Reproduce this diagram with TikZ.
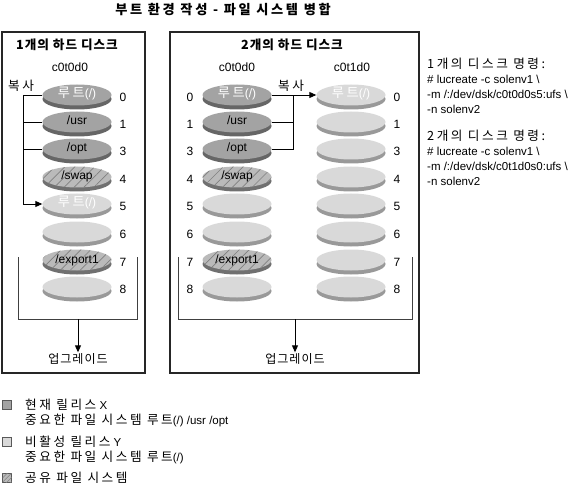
\documentclass[tikz,border=0pt]{standalone}
\usepackage{fontspec}
\setmainfont{Liberation Sans}
\newfontfamily\kr[LetterSpace=20,Scale=1.1]{Noto Sans CJK KR}
\newfontfamily\krt[LetterSpace=8,Scale=1.05]{Noto Sans CJK KR}
\usetikzlibrary{shapes.geometric,patterns.meta,arrows.meta}
\definecolor{dtop}{HTML}{A3A3A3}
\definecolor{dside}{HTML}{666666}
\definecolor{ltop}{HTML}{D9D9D9}
\definecolor{lside}{HTML}{999999}
\definecolor{htop}{HTML}{BABABA}
\definecolor{hside}{HTML}{707070}
\definecolor{hline}{HTML}{808080}
\newcommand\fsz{\fontsize{11.5}{14}\selectfont}
\newcommand\dsz{\fontsize{12}{14}\selectfont}
\tikzset{
  disklbl/.style={ellipse, minimum width=69pt, minimum height=21pt, inner sep=0pt,
    text height=7.5pt, text depth=1.5pt, font=\dsz},
  dface/.style={fill=dtop}, dsd/.style={fill=dside},
  lface/.style={fill=ltop}, lsd/.style={fill=lside},
  hface/.style={fill=htop, postaction={pattern={Lines[angle=45,distance=7pt,line width=0.7pt]}, pattern color=hline}},
  hsd/.style={fill=hside},
  num/.style={font=\dsz, inner sep=0pt},
  lbl/.style={font=\dsz, inner sep=1pt},
  ttl/.style={font=\kr\bfseries\fontsize{12}{14}\selectfont, inner sep=1pt},
  bttl/.style={font=\krt\bfseries\fontsize{12}{14}\selectfont, inner sep=1pt},
  conn/.style={line width=0.9pt, black},
  arr/.style={-{Triangle[length=7pt,width=6pt]}},
  bracket/.style={line width=0.7pt, black!75},
  frame/.style={line width=1.2pt, black!85},
  sq/.style={draw=black!65, line width=0.6pt, minimum size=9pt, inner sep=0pt},
  lt/.style={font=\fsz, anchor=west, inner sep=0pt},
}
% name, x, y, face style, side style, text style, text
\newcommand\dsk[7]{%
  \path[#5] (#2,#3+4) ellipse [x radius=34.5pt, y radius=10.5pt];
  \path[#4] (#2,#3) ellipse [x radius=34.5pt, y radius=10.5pt];
  \node[disklbl,#6] (#1) at (#2,#3) {#7};}
\begin{document}
\begin{tikzpicture}[x=1pt,y=-1pt]
\useasboundingbox (0,0) rectangle (578,489);
\node[ttl] (title) at (223,10) {부트 환경 작성 - 파일 시스템 병합};
% frames
\draw[frame] (2,32) rectangle (145,373);
\draw[frame] (170,32) rectangle (419,373);
\node[bttl] (t1) at (67,45) {1개의 하드 디스크};
\node[bttl] (t2) at (292,45) {2개의 하드 디스크};
\node[lbl] (dA) at (70,67) {c0t0d0};
\node[lbl] (dB) at (237,67) {c0t0d0};
\node[lbl] (dC) at (352,67) {c0t1d0};
% left box disks
\dsk{A0}{77}{95}{dface}{dsd}{text=white}{{\kr 루트}(/)}
\dsk{A1}{77}{122}{dface}{dsd}{}{/usr}
\dsk{A3}{77}{149}{dface}{dsd}{}{/opt}
\dsk{A4}{77}{177}{hface}{hsd}{}{/swap}
\dsk{A5}{77}{204}{lface}{lsd}{text=white}{{\kr 루트}(/)}
\dsk{A6}{77}{232}{lface}{lsd}{}{}
\dsk{A7}{77}{260}{hface}{hsd}{}{/export1}
\dsk{A8}{77}{287}{lface}{lsd}{}{}
\node[num] (nA0) at (123,97) {0};
\node[num] (nA1) at (123,124) {1};
\node[num] (nA3) at (123,151) {3};
\node[num] (nA4) at (123,179) {4};
\node[num] (nA5) at (123,206) {5};
\node[num] (nA6) at (123,234) {6};
\node[num] (nA7) at (123,262) {7};
\node[num] (nA8) at (123,289) {8};
% right box, first disk
\dsk{B0}{237}{95}{dface}{dsd}{text=white}{{\kr 루트}(/)}
\dsk{B1}{237}{122}{dface}{dsd}{}{/usr}
\dsk{B3}{237}{149}{dface}{dsd}{}{/opt}
\dsk{B4}{237}{177}{hface}{hsd}{}{/swap}
\dsk{B5}{237}{204}{lface}{lsd}{}{}
\dsk{B6}{237}{232}{lface}{lsd}{}{}
\dsk{B7}{237}{260}{hface}{hsd}{}{/export1}
\dsk{B8}{237}{287}{lface}{lsd}{}{}
\node[num] (nB0) at (190,97) {0};
\node[num] (nB1) at (190,124) {1};
\node[num] (nB3) at (190,151) {3};
\node[num] (nB4) at (190,179) {4};
\node[num] (nB5) at (190,206) {5};
\node[num] (nB6) at (190,234) {6};
\node[num] (nB7) at (190,262) {7};
\node[num] (nB8) at (190,289) {8};
% right box, second disk
\dsk{C0}{351}{95}{lface}{lsd}{text=white}{{\kr 루트}(/)}
\dsk{C1}{351}{122}{lface}{lsd}{}{}
\dsk{C3}{351}{149}{lface}{lsd}{}{}
\dsk{C4}{351}{177}{lface}{lsd}{}{}
\dsk{C5}{351}{204}{lface}{lsd}{}{}
\dsk{C6}{351}{232}{lface}{lsd}{}{}
\dsk{C7}{351}{260}{lface}{lsd}{}{}
\dsk{C8}{351}{287}{lface}{lsd}{}{}
\node[num] (nC0) at (397,97) {0};
\node[num] (nC1) at (397,124) {1};
\node[num] (nC3) at (397,151) {3};
\node[num] (nC4) at (397,179) {4};
\node[num] (nC5) at (397,206) {5};
\node[num] (nC6) at (397,234) {6};
\node[num] (nC7) at (397,262) {7};
\node[num] (nC8) at (397,289) {8};
% copy connectors, left
\node[lbl,font=\kr\fsz] (cpA) at (21,86) {복사};
\coordinate (barA) at (23,95);
\draw[conn] (A0.west) -- (barA);
\draw[conn] (A1.west) -- (A1.west -| barA);
\draw[conn] (A3.west) -- (A3.west -| barA);
\draw[conn,arr] (barA) |- (A5.west);
% copy connectors, right
\node[lbl,font=\kr\fsz] (cpB) at (291,86) {복사};
\coordinate (barB) at (293,95);
\draw[conn,arr] (B0.east) -- (C0.west);
\draw[conn] (B1.east) -| (barB);
\draw[conn] (B3.east) -| (barB);
% upgrade brackets
\draw[bracket] (18,257) -- (18,319) -- (137,319) -- (137,257);
\coordinate (uA) at (78,319);
\node[lbl,font=\krt\fsz] (upA) at (78,359) {업그레이드};
\draw[conn,arr] (uA) -- (upA.north);
\draw[bracket] (178,257) -- (178,319) -- (412,319) -- (412,257);
\coordinate (uB) at (295,319);
\node[lbl,font=\krt\fsz] (upB) at (295,359) {업그레이드};
\draw[conn,arr] (uB) -- (upB.north);
% commands
\node[font=\fontsize{11.5}{15}\selectfont, anchor=north west, align=left, inner sep=0pt] (cmd1) at (427,58)
  {{\kr 1개의 디스크 명령:}\\\# lucreate -c solenv1 \textbackslash\\-m /:/dev/dsk/c0t0d0s5:ufs \textbackslash\\-n solenv2};
\node[font=\fontsize{11.5}{15}\selectfont, anchor=north west, align=left, inner sep=0pt] (cmd2) at (427,130)
  {{\kr 2개의 디스크 명령:}\\\# lucreate -c solenv1 \textbackslash\\-m /:/dev/dsk/c0t1d0s0:ufs \textbackslash\\-n solenv2};
% legend
\node[sq,fill=dtop] (k1) at (7,405) {};
\node[lt] (k1a) at (25,405) {{\kr 현재 릴리스} X};
\node[lt] (k1b) at (25,420) {{\kr 중요한 파일 시스템 루트}(/) /usr /opt};
\node[sq,fill=ltop] (k2) at (7,442) {};
\node[lt] (k2a) at (25,442) {{\kr 비활성 릴리스} Y};
\node[lt] (k2b) at (25,457) {{\kr 중요한 파일 시스템 루트}(/)};
\node[sq,fill=htop,postaction={pattern={Lines[angle=45,distance=3pt,line width=0.6pt]}, pattern color=hline}] (k3) at (7,478) {};
\node[lt] (k3a) at (25,478) {{\kr 공유 파일 시스템}};
\end{tikzpicture}
\end{document}
